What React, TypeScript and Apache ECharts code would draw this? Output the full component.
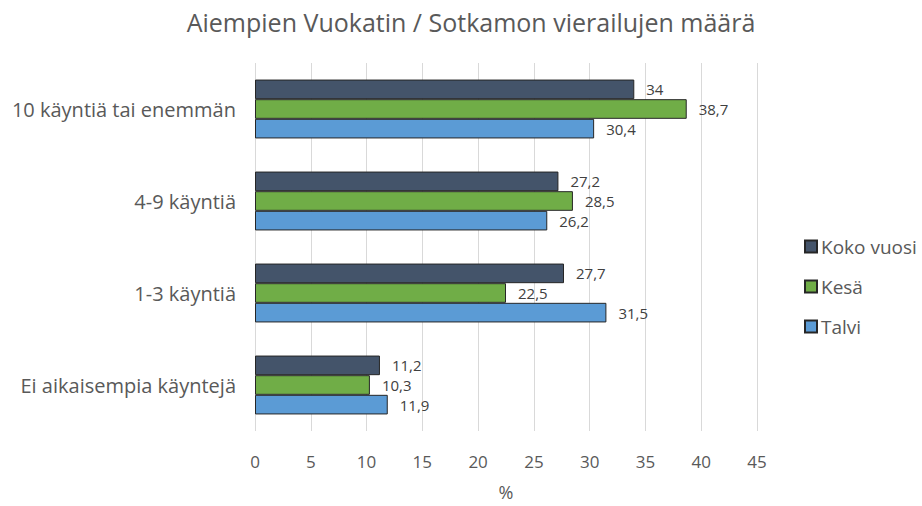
import React, { useEffect, useRef } from "react";
import * as echarts from "echarts";

const categories = [
  "10 käyntiä tai enemmän",
  "4-9 käyntiä",
  "1-3 käyntiä",
  "Ei aikaisempia käyntejä",
];
const seriesNames = ["Koko vuosi", "Kesä", "Talvi"];
const kokoVuosi = [34, 27.2, 27.7, 11.2];
const kesa = [38.7, 28.5, 22.5, 10.3];
const talvi = [30.4, 26.2, 31.5, 11.9];
const colors = ["#44546A", "#70AD47", "#5B9BD5"];
const FONT = "'Open Sans', 'Noto Sans', sans-serif";

export default function App() {
  const ref = useRef<HTMLDivElement>(null);
  useEffect(() => {
    if (!ref.current) return;
    const chart = echarts.init(ref.current, undefined, { renderer: "svg" });
    const values = [kokoVuosi, kesa, talvi];
    chart.setOption({
      animation: false,
      textStyle: { fontFamily: FONT },
      title: {
        text: "Aiempien Vuokatin / Sotkamon vierailujen määrä",
        left: 466,
        textAlign: "center",
        top: 4,
        textStyle: { fontFamily: FONT, fontSize: 25, fontWeight: "normal", color: "#595959" },
      },
      legend: {
        orient: "vertical",
        left: 799,
        top: 232,
        itemGap: 21,
        itemWidth: 12,
        itemHeight: 12,
        icon: "rect",
        data: seriesNames,
        textStyle: { fontFamily: FONT, fontSize: 19, color: "#595959", padding: [0, 0, 0, -1] },
      },
      grid: { left: 255, right: 165, top: 63, bottom: 67, containLabel: false },
      xAxis: {
        type: "value",
        min: 0,
        max: 45,
        interval: 5,
        name: "%",
        nameLocation: "middle",
        nameGap: 52,
        nameTextStyle: { fontFamily: FONT, fontSize: 18, color: "#595959" },
        axisLine: { show: false },
        axisTick: { show: false },
        axisLabel: { fontFamily: FONT, fontSize: 17, color: "#595959", margin: 22 },
        splitLine: { show: true, lineStyle: { color: "#D9D9D9", width: 1 } },
      },
      yAxis: {
        type: "category",
        inverse: true,
        data: categories,
        axisLine: { show: false },
        axisTick: { show: false },
        axisLabel: { fontFamily: FONT, fontSize: 20, color: "#595959", margin: 19 },
      },
      series: seriesNames.map((name, i) => ({
        name,
        type: "bar",
        data: values[i],
        barGap: "0%",
        barCategoryGap: "36%",
        itemStyle: { color: colors[i], borderColor: "#262626", borderWidth: 1 },
        label: {
          show: true,
          position: "right",
          distance: 12,
          fontFamily: FONT,
          fontSize: 15,
          color: "#404040",
          formatter: (p: any) => String(p.value).replace(".", ","),
        },
      })),
    });
    return () => chart.dispose();
  }, []);
  return (
    <div
      ref={ref}
      style={{ position: "fixed", left: 0, top: 0, width: 922, height: 506, background: "#fff" }}
    />
  );
}
